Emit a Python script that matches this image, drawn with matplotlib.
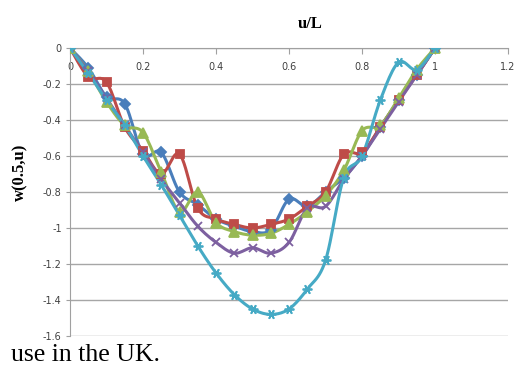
import numpy as np
import matplotlib.pyplot as plt

# posiciones u/L
u = [0, 0.05, 0.1, 0.15, 0.2, 0.25, 0.3, 0.35, 0.4, 0.45, 0.5,
     0.55, 0.6, 0.65, 0.7, 0.75, 0.8, 0.85, 0.9, 0.95, 1.0]

serie_azul = [0, -0.11, -0.27, -0.31, -0.59, -0.58, -0.80, -0.87, -0.95, -0.99, -1.02,
              -1.01, -0.84, -0.88, -0.80, -0.72, -0.60, -0.44, -0.29, -0.15, 0]
serie_roja = [0, -0.16, -0.19, -0.44, -0.57, -0.70, -0.59, -0.89, -0.95, -0.98, -1.00,
              -0.98, -0.95, -0.88, -0.80, -0.59, -0.58, -0.44, -0.29, -0.15, 0]
serie_verde = [0, -0.13, -0.30, -0.43, -0.47, -0.69, -0.91, -0.80, -0.97, -1.02, -1.04,
               -1.03, -0.98, -0.91, -0.82, -0.68, -0.46, -0.43, -0.28, -0.12, 0]
serie_morada = [0, -0.13, -0.28, -0.43, -0.58, -0.73, -0.86, -0.99, -1.08, -1.14, -1.11,
                -1.14, -1.08, -0.89, -0.88, -0.73, -0.60, -0.45, -0.30, -0.15, 0]
serie_cian = [0, -0.14, -0.29, -0.43, -0.60, -0.76, -0.93, -1.10, -1.25, -1.37, -1.45,
              -1.48, -1.45, -1.34, -1.18, -0.72, -0.60, -0.29, -0.08, -0.12, 0]

xticks = [0, 0.2, 0.4, 0.6, 0.8, 1.0, 1.2]
xtick_labels = ['0', '0.2', '0.4', '0.6', '0.8', '1', '1.2']
yticks = [0, -0.2, -0.4, -0.6, -0.8, -1.0, -1.2, -1.4, -1.6]
ytick_labels = ['0', '-0.2', '-0.4', '-0.6', '-0.8', '-1', '-1.2', '-1.4', '-1.6']


def suavizar(x, y, n=12):
    # curva tipo Catmull-Rom (como las lineas suavizadas de Excel)
    x = np.asarray(x, float)
    y = np.asarray(y, float)
    px = np.concatenate([[x[0]], x, [x[-1]]])
    py = np.concatenate([[y[0]], y, [y[-1]]])
    xs, ys = [], []
    t = np.linspace(0, 1, n, endpoint=False)
    for i in range(1, len(px) - 2):
        p0, p1, p2, p3 = px[i - 1], px[i], px[i + 1], px[i + 2]
        q0, q1, q2, q3 = py[i - 1], py[i], py[i + 1], py[i + 2]
        c1x, c1y = p1 + (p2 - p0) / 6, q1 + (q2 - q0) / 6
        c2x, c2y = p2 - (p3 - p1) / 6, q2 - (q3 - q1) / 6
        bx = (1 - t) ** 3 * p1 + 3 * (1 - t) ** 2 * t * c1x + 3 * (1 - t) * t ** 2 * c2x + t ** 3 * p2
        by = (1 - t) ** 3 * q1 + 3 * (1 - t) ** 2 * t * c1y + 3 * (1 - t) * t ** 2 * c2y + t ** 3 * q2
        xs.extend(bx)
        ys.extend(by)
    xs.append(x[-1])
    ys.append(y[-1])
    return xs, ys


fig = plt.figure(figsize=(5.16, 3.67), dpi=100)
ax = fig.add_axes([0.1357, 0.0845, 0.8488, 0.7847])

series = [
    (serie_azul, '#4A7EBB', 'D', 5),
    (serie_roja, '#BE4B48', 's', 6),
    (serie_verde, '#98B954', '^', 7),
    (serie_morada, '#7D60A0', 'x', 6),
    (serie_cian, '#46AAC5', (6, 2, 90), 7),
]

for datos, color, marcador, tam in series:
    xs, ys = suavizar(u, datos)
    ax.plot(xs, ys, color=color, linewidth=2.2, zorder=3)
    ax.plot(u, datos, linestyle='none', marker=marcador, markersize=tam,
            color=color, markeredgecolor=color, markeredgewidth=1.3, zorder=4)

ax.set_xlim(0, 1.2)
ax.set_ylim(-1.6, 0)
ax.set_xticks(xticks)
ax.set_xticklabels(xtick_labels)
ax.set_yticks(yticks)
ax.set_yticklabels(ytick_labels)

for s in ['right', 'top']:
    ax.spines[s].set_visible(False)
ax.spines['bottom'].set_position(('data', 0))
ax.spines['bottom'].set_color('#A0A0A0')
ax.spines['left'].set_color('#A0A0A0')
ax.spines['bottom'].set_zorder(1)
ax.spines['left'].set_zorder(1)

ax.yaxis.grid(True, color='#A6A6A6', linewidth=1.0)
ax.set_axisbelow(True)
ax.tick_params(axis='both', labelsize=7, colors='#404040', length=4,
               width=0.8, direction='out', pad=3)
ax.tick_params(axis='x', color='#A0A0A0', pad=6)
ax.tick_params(axis='y', color='#A0A0A0', length=3)

fig.text(0.601, 0.935, 'u/L', family='Liberation Serif', fontweight='bold',
         fontsize=12, ha='center', va='center')
fig.text(0.04, 0.53, 'w(0.5,u)', family='Liberation Serif', fontweight='bold',
         fontsize=12, ha='center', va='center', rotation=90)
fig.text(0.022, 0.016, 'use in the UK.', family='Liberation Serif',
         fontsize=18.5, ha='left', va='baseline')

fig.savefig('out.png', dpi=100)
